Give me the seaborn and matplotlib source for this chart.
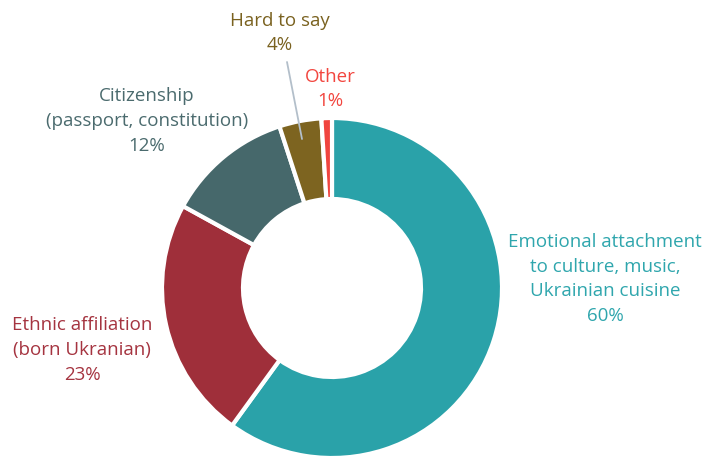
import matplotlib
matplotlib.use("Agg")
import matplotlib.pyplot as plt
import seaborn as sns

labels = ["Emotional attachment\nto culture, music,\nUkrainian cuisine",
          "Ethnic affiliation\n(born Ukranian)",
          "Citizenship\n(passport, constitution)",
          "Hard to say",
          "Other"]
shares = [60, 23, 12, 4, 1]
colors = ["#2aa2a9", "#9f2f3a", "#46686b", "#7d6420", "#f0443f"]
text_colors = ["#2fa6ad", "#a53440", "#4b6b6e", "#7a6220", "#f2463f"]

sns.set_theme(style="white")
plt.rcParams["font.family"] = ["Open Sans", "DejaVu Sans"]

fig = plt.figure(figsize=(7.04, 4.60), dpi=100)
ax = fig.add_axes([0, 0, 1, 1])

H = 460
ax.pie(shares, colors=colors, startangle=90, counterclock=False,
       center=(332, H - 289), radius=170,
       wedgeprops=dict(width=81, edgecolor="white", linewidth=3))

# label positions (pixel coords from top-left)
pos = [(605, 279), (82, 350), (147, 121), (280, 33), (330, 89)]
for lab, s, c, (x, y) in zip(labels, shares, text_colors, pos):
    ax.text(x, H - y, f"{lab}\n{s}%", ha="center", va="center",
            color=c, fontsize=13.5, linespacing=1.48)

# leader line for the small slice
ax.plot([287, 302], [H - 63, H - 140], color="#b3bfca", lw=1.3)

ax.set_xlim(0, 704)
ax.set_ylim(0, H)
ax.set_aspect("equal")
ax.axis("off")

fig.savefig("out.png", dpi=100)
